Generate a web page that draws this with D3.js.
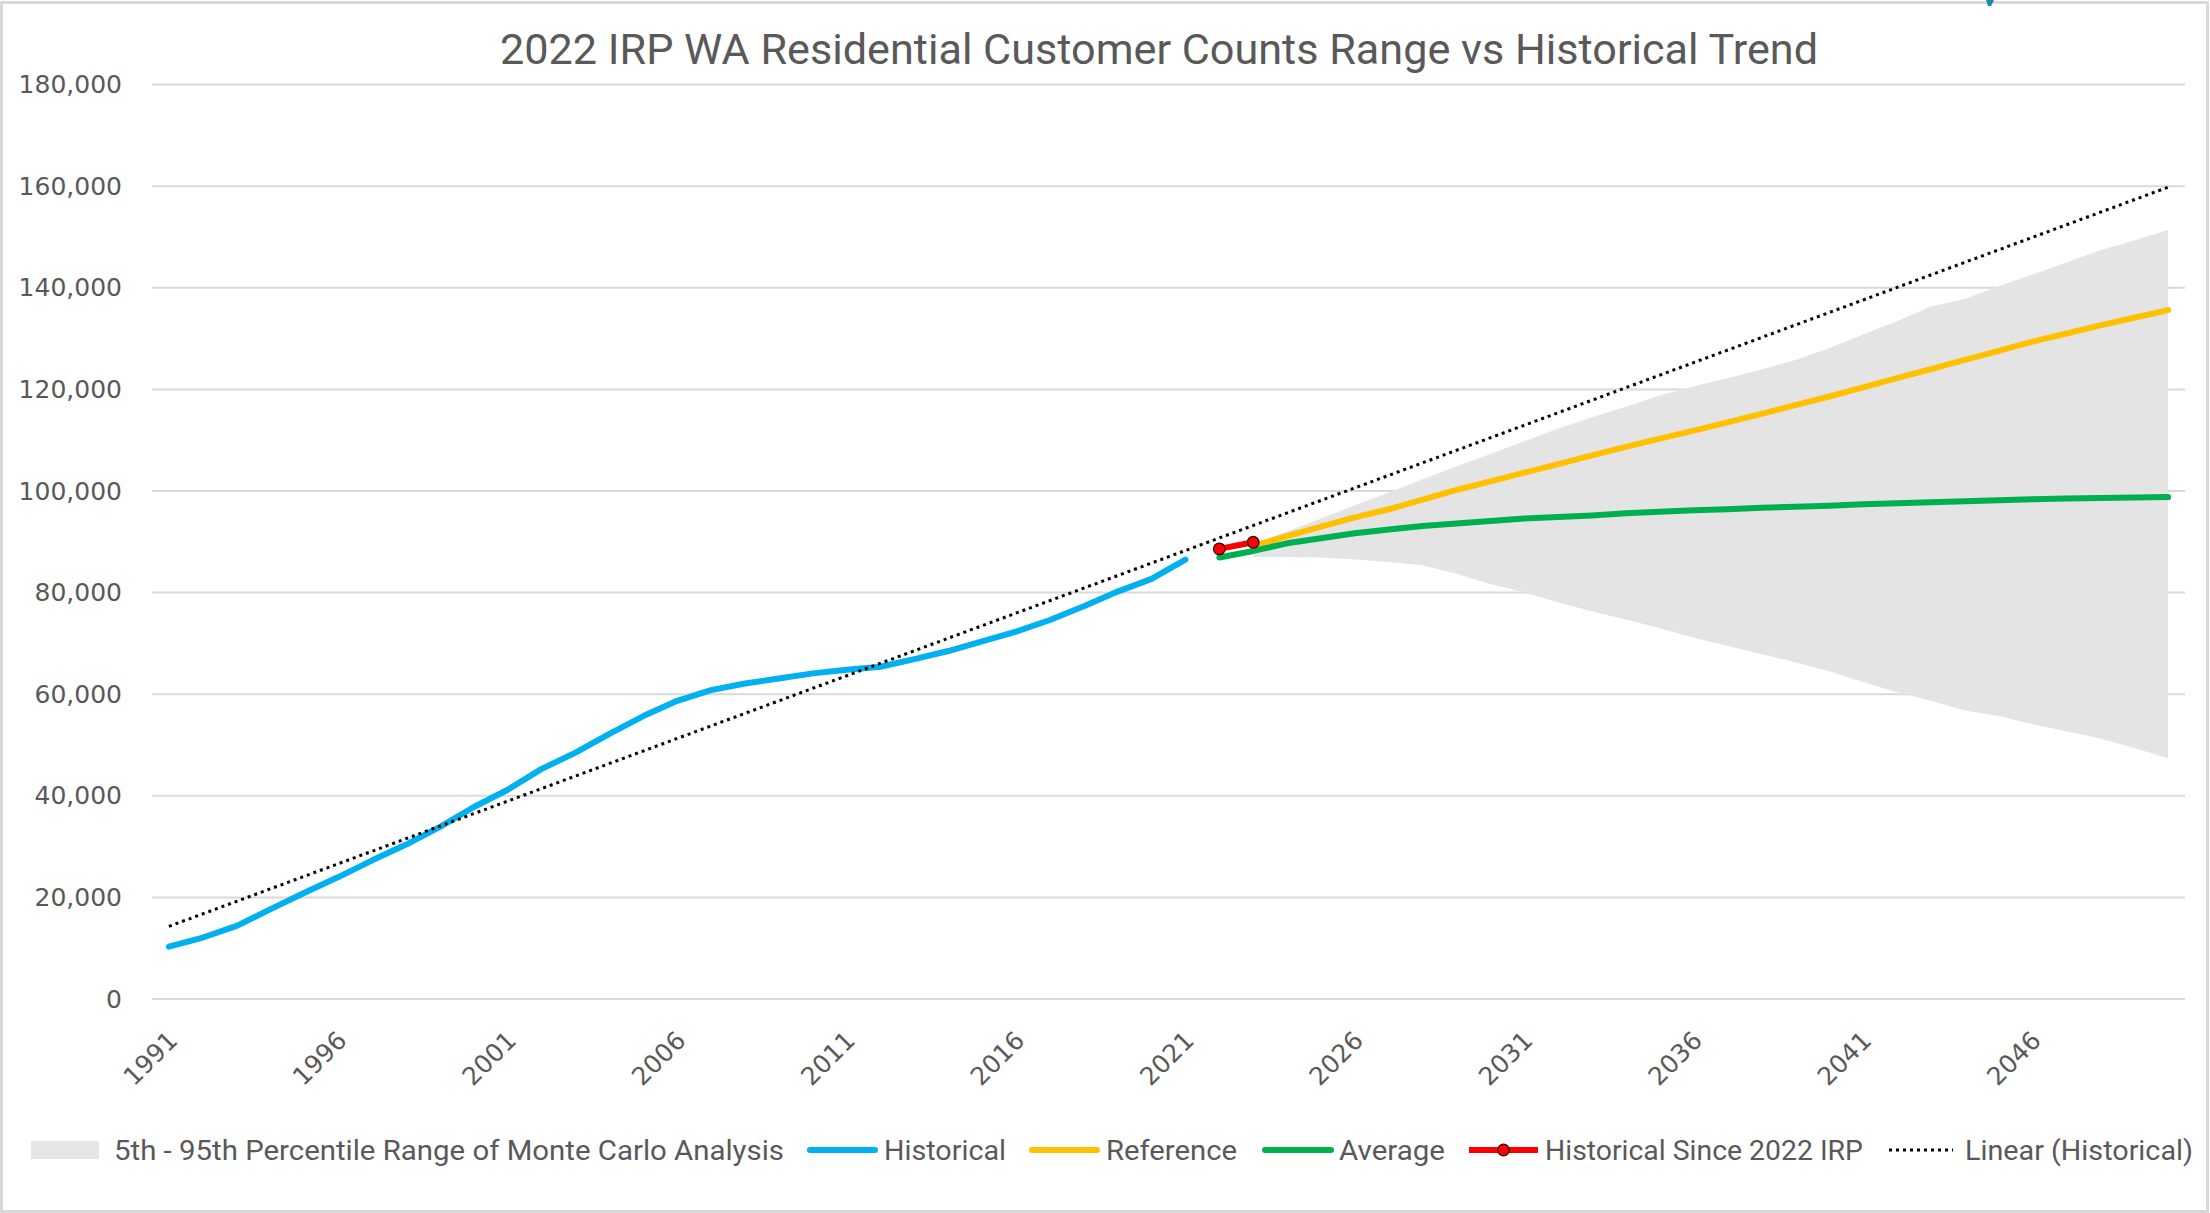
<!DOCTYPE html>
<html>
<head>
<meta charset="utf-8">
<script src="https://cdn.jsdelivr.net/npm/d3@7"></script>
<style>
  html, body { margin: 0; padding: 0; background: #fff; }
  svg { display: block; }
</style>
</head>
<body>
<script>
// categories and ticks
const years = d3.range(1991, 2051)
const tickYears = [1991, 1996, 2001, 2006, 2011, 2016, 2021, 2026, 2031, 2036, 2041, 2046]
const yTicks = [0, 20000, 40000, 60000, 80000, 100000, 120000, 140000, 160000, 180000]

// Historical 1991-2021
const histYears = d3.range(1991, 2022)
const historical = [10300, 12100, 14400, 17700, 20900, 24000, 27300, 30400, 33900, 37800,
  41200, 45300, 48500, 52200, 55700, 58700, 60800, 62100, 63100, 64100,
  64800, 65400, 66900, 68500, 70400, 72300, 74600, 77300, 80200, 82700, 86500]

// Historical since 2022 IRP
const sinceYears = [2022, 2023]
const sinceIrp = [88600, 89900]

// Average 2022-2050
const avgYears = d3.range(2022, 2051)
const average = [86900, 88200, 89700, 90700, 91700, 92400, 93100, 93600, 94100, 94600,
  94900, 95200, 95600, 95900, 96200, 96400, 96700, 96900, 97100, 97400,
  97600, 97800, 98000, 98200, 98400, 98500, 98600, 98700, 98800]

// Reference 2023-2050
const refYears = d3.range(2023, 2051)
const reference = [89200, 91100, 93000, 94800, 96400, 98300, 100200, 101900, 103600, 105300,
  107000, 108700, 110300, 111900, 113500, 115200, 116900, 118600, 120400, 122200,
  124000, 125800, 127600, 129400, 131000, 132600, 134100, 135600]

// 5th - 95th percentile range 2023-2050
const rangeYears = d3.range(2023, 2051)
const p95 = [89600, 92100, 94600, 97200, 99700, 102300, 104800, 107300, 109800, 112300,
  114500, 116600, 118800, 120600, 122200, 123900, 125800, 128100, 130800, 133400,
  136300, 137800, 140300, 142600, 145000, 147400, 149300, 151400]
const p5 = [87000, 87000, 86900, 86500, 86000, 85400, 83700, 81700, 80000, 78100,
  76300, 74700, 73000, 71100, 69500, 67900, 66300, 64500, 62400, 60400,
  58700, 56800, 55700, 54100, 52700, 51300, 49400, 47400]

// Linear (Historical) trendline ends
const trendYears = [1991, 2050]
const trend = [14300, 159800]

const W = 2210, H = 1213
const textColor = '#595959'
const narrow = "'Liberation Sans Narrow', 'Roboto', 'Liberation Sans', sans-serif"

let svg = d3.select('body').append('svg')
  .attr('width', W)
  .attr('height', H)

svg.append('rect')
  .attr('x', 1.5).attr('y', 2.5)
  .attr('width', W - 4).attr('height', H - 4)
  .attr('fill', '#fff')
  .attr('stroke', '#d9d9d9')
  .attr('stroke-width', 3)

// small teal mark cut off at the top edge
svg.append('path')
  .attr('d', 'M1986,0 L1994,0 L1991,6 L1988,6 Z')
  .attr('fill', '#1f8a9a')

let x = d3.scaleBand().domain(years).range([152, 2185])
let cx = yr => x(yr) + x.bandwidth() / 2
let y = d3.scaleLinear().domain([0, 180000]).range([999, 84.6])

// title
svg.append('text')
  .attr('x', 500).attr('y', 64)
  .attr('textLength', 1318)
  .attr('lengthAdjust', 'spacingAndGlyphs')
  .style('font-family', narrow)
  .style('font-size', '43px')
  .style('fill', textColor)
  .text('2022 IRP WA Residential Customer Counts Range vs Historical Trend')

// gridlines
svg.append('g').selectAll('line')
  .data(yTicks)
  .join('line')
  .attr('x1', 152).attr('x2', 2185)
  .attr('y1', d => y(d)).attr('y2', d => y(d))
  .attr('stroke', '#d9d9d9')
  .attr('stroke-width', 2)

// y axis labels
let yAxis = svg.append('g')
  .attr('transform', 'translate(122,0)')
  .call(d3.axisLeft(y).tickValues(yTicks).tickSize(0).tickPadding(0).tickFormat(d3.format(',')))
yAxis.select('.domain').remove()
yAxis.selectAll('text')
  .style('font-family', "'DejaVu Sans', Verdana, sans-serif")
  .style('font-size', '25px')
  .style('fill', textColor)

// x axis labels
svg.append('g').selectAll('text')
  .data(tickYears)
  .join('text')
  .attr('transform', d => `translate(${cx(d) + 10},1042) rotate(-45)`)
  .attr('text-anchor', 'end')
  .style('font-family', "'DejaVu Sans', Verdana, sans-serif")
  .style('font-size', '25px')
  .style('fill', textColor)
  .text(d => d)

// percentile range
let rangeData = rangeYears.map((yr, i) => ({ yr, lo: p5[i], hi: p95[i] }))
svg.append('path')
  .datum(rangeData)
  .attr('fill', '#e4e4e4')
  .attr('d', d3.area().x(d => cx(d.yr)).y0(d => y(d.lo)).y1(d => y(d.hi)))

let line = d3.line().x(d => cx(d[0])).y(d => y(d[1]))
function drawSeries(yrs, vals, color) {
  return svg.append('path')
    .datum(yrs.map((yr, i) => [yr, vals[i]]))
    .attr('fill', 'none')
    .attr('stroke', color)
    .attr('stroke-width', 6)
    .attr('stroke-linejoin', 'round')
    .attr('stroke-linecap', 'round')
    .attr('d', line)
}

drawSeries(histYears, historical, '#00b0f0')
drawSeries(refYears, reference, '#ffc000')
drawSeries(avgYears, average, '#00b050')
drawSeries(sinceYears, sinceIrp, '#ff0000')

svg.append('g').selectAll('circle')
  .data(sinceYears.map((yr, i) => [yr, sinceIrp[i]]))
  .join('circle')
  .attr('cx', d => cx(d[0]))
  .attr('cy', d => y(d[1]))
  .attr('r', 5.8)
  .attr('fill', '#ff0000')
  .attr('stroke', '#3a0000')
  .attr('stroke-width', 1.3)

// trendline
svg.append('path')
  .datum(trendYears.map((yr, i) => [yr, trend[i]]))
  .attr('fill', 'none')
  .attr('stroke', '#000')
  .attr('stroke-width', 3)
  .attr('stroke-dasharray', '3,4')
  .attr('d', line)

// legend
let legend = svg.append('g')
const legY = 1150
let legendText = (x0, w, label) => legend.append('text')
  .attr('x', x0).attr('y', legY).attr('dy', '0.35em')
  .attr('textLength', w)
  .attr('lengthAdjust', 'spacingAndGlyphs')
  .style('font-family', narrow)
  .style('font-size', '28px')
  .style('fill', textColor)
  .text(label)

legend.append('rect')
  .attr('x', 31).attr('y', 1141).attr('width', 68).attr('height', 18)
  .attr('fill', '#e6e6e6')
legendText(114, 670, '5th - 95th Percentile Range of Monte Carlo Analysis')

let legLine = (x1, x2, color) => legend.append('line')
  .attr('x1', x1).attr('x2', x2).attr('y1', legY).attr('y2', legY)
  .attr('stroke', color).attr('stroke-width', 6).attr('stroke-linecap', 'round')

legLine(810, 875, '#00b0f0')
legendText(884, 122, 'Historical')
legLine(1032, 1097, '#ffc000')
legendText(1106, 131, 'Reference')
legLine(1265, 1331, '#00b050')
legendText(1339, 106, 'Average')
legLine(1469, 1538, '#ff0000').attr('stroke-linecap', 'butt')
legend.append('circle')
  .attr('cx', 1503.5).attr('cy', legY).attr('r', 5.8)
  .attr('fill', '#ff0000').attr('stroke', '#3a0000').attr('stroke-width', 1.3)
legendText(1545, 318, 'Historical Since 2022 IRP')
legend.append('line')
  .attr('x1', 1889).attr('x2', 1953).attr('y1', legY).attr('y2', legY)
  .attr('stroke', '#000').attr('stroke-width', 3).attr('stroke-dasharray', '3,4')
legendText(1965, 228, 'Linear (Historical)')
</script>
</body>
</html>
